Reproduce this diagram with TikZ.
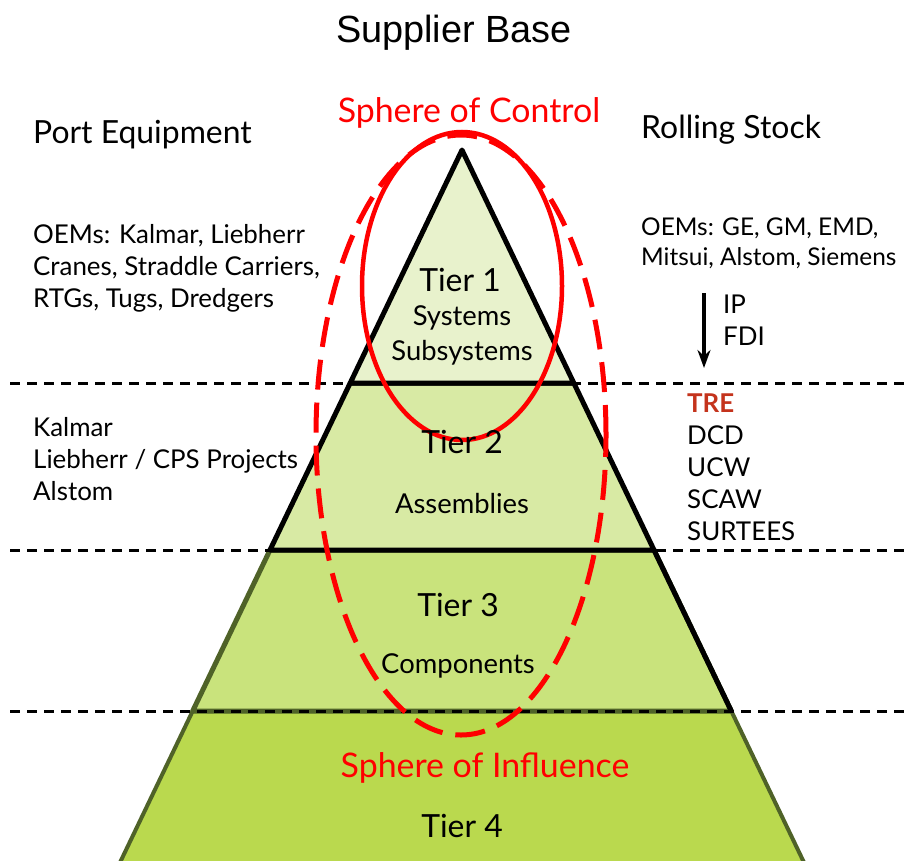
\documentclass[tikz,border=0pt]{standalone}
\usepackage{fontspec}
\setmainfont{Lato}
\newfontfamily\titlefont{Liberation Sans}
\usepackage{xcolor}
\usetikzlibrary{positioning}
\usetikzlibrary{arrows.meta}

\definecolor{tierone}{HTML}{E8F2CC}
\definecolor{tiertwo}{HTML}{D8EAA4}
\definecolor{tierthree}{HTML}{C9E37C}
\definecolor{tierfour}{HTML}{BAD94E}
\definecolor{olive}{HTML}{4F6228}
\definecolor{trered}{HTML}{C4331C}

\begin{document}
\begin{tikzpicture}[x=1bp, y=-1bp]

                \def\g{32bp}

                \tikzset{
                    side/.style={anchor=base west, inner sep=0pt,
                        font=\fontsize{26}{30}\selectfont},
                    oem/.style={side, font=\fontsize{24.5}{30}\selectfont},
                    head/.style={anchor=base west, inner sep=0pt,
                        font=\fontsize{32}{36}\selectfont},
                    tier/.style={anchor=base, inner sep=0pt,
                        font=\fontsize{32}{36}\selectfont},
                    sub/.style={anchor=base, inner sep=0pt,
                        font=\fontsize{27.5}{30}\selectfont},
                    sphere/.style={anchor=base, inner sep=0pt, text=red,
                        font=\fontsize{34}{36}\selectfont},
                    level/.style={black, line width=3bp,
                        dash pattern=on 10bp off 7bp}
                }

                \useasboundingbox (0,0) rectangle (907,861);

                % Corners of the pyramid, left and right at each level
                \coordinate (apex) at (462,150);
                \coordinate (L1) at (350.2,383);  \coordinate (R1) at (573.8,383);
                \coordinate (L2) at (270,550);    \coordinate (R2) at (654,550);
                \coordinate (L3) at (192.7,711);  \coordinate (R3) at (731.3,711);
                \coordinate (L4) at (116.4,870);  \coordinate (R4) at (807.6,870);

                % Tiers, drawn from the bottom up
                \begin{scope}[line join=round]
                    \fill[tierfour, draw=olive, line width=4bp]
                        (L3) -- (R3) -- (R4) -- (L4) -- cycle;
                    \fill[tierthree, draw=olive, line width=5bp]
                        (L2) -- (R2) -- (R3) -- (L3) -- cycle;
                    \draw[line width=5bp] (R2) -- (R3);
                    \fill[tiertwo, draw=black, line width=5bp]
                        (L1) -- (R1) -- (R2) -- (L2) -- cycle;
                    \fill[tierone, draw=black, line width=5bp]
                        (apex) -- (R1) -- (L1) -- cycle;
                \end{scope}

                % Level lines across the picture
                \coordinate (d1w) at (10,383);  \coordinate (d1e) at (907,383);
                \coordinate (d2w) at (10,550);  \coordinate (d2e) at (907,550);
                \coordinate (d3w) at (10,711);  \coordinate (d3e) at (907,711);
                \draw[level] (d1w) -- (d1e);
                \draw[level] (d2w) -- (d2e);
                \draw[level] (d3w) -- (d3e);

                % Spheres
                \coordinate (ctl) at (462,286);
                \coordinate (inf) at (461,435);
                \draw[red, line width=4.5bp]
                    (ctl) ellipse [x radius=100bp, y radius=154bp];
                \draw[red, line width=5bp, dash pattern=on 30bp off 13bp]
                    (inf) ellipse [x radius=145bp, y radius=300bp];

                % Labels in the pyramid
                \node[tier] (t1) at (460,291) {Tier 1};
                \node[sub] (sys) at (462,325) {Systems};
                \node[sub] (subsys) at (462,360) {Subsystems};
                \node[tier] (t2) at (462,453) {Tier 2};
                \node[sub] (asm) at (462,513) {Assemblies};
                \node[tier] (t3) at (458,616) {Tier 3};
                \node[sub] (comp) at (458,673) {Components};
                \node[tier] (t4) at (462,837) {Tier 4};

                \node[sphere] (soc) at (469,122) {Sphere of Control};
                \node[sphere] (soi) at (485,777) {Sphere of Influence};

                % Title
                \node[anchor=base, inner sep=0pt,
                    font=\titlefont\fontsize{38}{40}\selectfont]
                    (title) at (454,42) {Supplier Base};

                % Port equipment, left
                \node[head] (port) at (33,143) {Port Equipment};
                \node[side] (p1) at (33,243) {OEMs: Kalmar, Liebherr};
                \node[side] (p2) [below=\g of p1.base west, anchor=base west]
                    {Cranes, Straddle Carriers,};
                \node[side] (p3) [below=\g of p2.base west, anchor=base west]
                    {RTGs, Tugs, Dredgers};
                \node[side] (k1) at (33,436) {Kalmar};
                \node[side] (k2) [below=\g of k1.base west, anchor=base west]
                    {Liebherr / CPS Projects};
                \node[side] (k3) [below=\g of k2.base west, anchor=base west]
                    {Alstom};

                % Rolling stock, right
                \node[head] (roll) at (641,138) {Rolling Stock};
                \node[oem] (r1) at (641,235) {OEMs: GE, GM, EMD,};
                \node[oem] (r2) [below=30bp of r1.base west, anchor=base west]
                    {Mitsui, Alstom, Siemens};
                \coordinate (arrtop) at (704,293);
                \coordinate (arrbot) at (704,368);
                \draw[line width=4bp, -{Stealth[length=18bp, width=13bp]}]
                    (arrtop) -- (arrbot);
                \node[side] (ip) at (723,313) {IP};
                \node[side] (fdi) [below=\g of ip.base west, anchor=base west]
                    {FDI};
                \node[side, text=trered, font=\fontsize{26}{30}\selectfont\bfseries]
                    (tre) at (687,412) {TRE};
                \node[side] (dcd) [below=\g of tre.base west, anchor=base west]
                    {DCD};
                \node[side] (ucw) [below=\g of dcd.base west, anchor=base west]
                    {UCW};
                \node[side] (scaw) [below=\g of ucw.base west, anchor=base west]
                    {SCAW};
                \node[side] (surt) [below=\g of scaw.base west, anchor=base west]
                    {SURTEES};

\end{tikzpicture}
\end{document}
